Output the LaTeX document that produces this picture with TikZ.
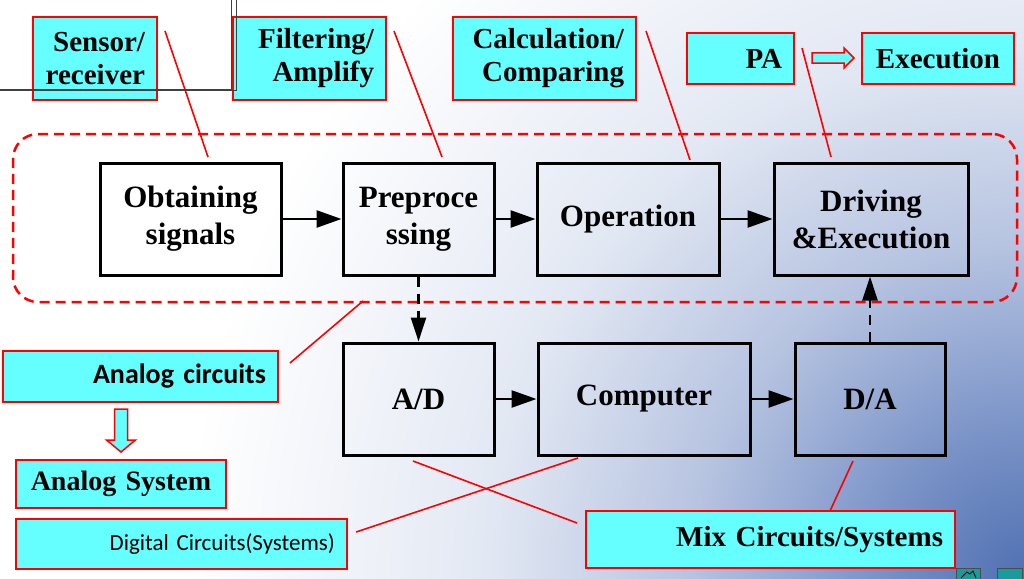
\documentclass[tikz,border=0pt]{standalone}
\usepackage{fontspec}
\setmainfont{Liberation Serif}
\newfontfamily\carlito{Carlito}
\usetikzlibrary{arrows.meta}
\definecolor{cyanbox}{HTML}{66FFFF}
\definecolor{redc}{HTML}{FF0000}
\definecolor{bga}{HTML}{5070B2}
\definecolor{bgb}{HTML}{8098CA}
\definecolor{bgc}{HTML}{B7C4E1}
\definecolor{bgd}{HTML}{E2E8F3}
\definecolor{bge}{HTML}{F3F5FA}
\definecolor{teal2}{HTML}{1A9A9A}
\pgfdeclareradialshading{bgshade}{\pgfpointorigin}{color(0bp)=(bga); color(5bp)=(bgb); color(10bp)=(bgc); color(16bp)=(bgd); color(21bp)=(bge); color(25bp)=(white); color(50bp)=(white)}
\newcommand\mainboxfont{\fontsize{31}{37}\selectfont\bfseries}
\newcommand\calloutfont{\fontsize{29}{33}\selectfont\bfseries}
\begin{document}
\begin{tikzpicture}[x=1pt,y=-1pt,
  blk/.style={draw=black, line width=3pt, align=center, font=\mainboxfont, inner sep=0pt},
  callout/.style={draw=redc, fill=cyanbox, line width=2pt, inner xsep=12pt, inner ysep=0pt, align=right, font=\calloutfont},
  grpbox/.style={draw=redc, line width=2.5pt, dash pattern=on 10pt off 6pt, rounded corners=25pt, inner sep=0pt},
  flow/.style={line width=2.5pt, -{Triangle[length=25pt,width=17pt]}},
  dflow/.style={line width=2.5pt, dash pattern=on 10pt off 7pt, -{Triangle[length=24pt,width=15pt]}},
  lead/.style={draw=redc, line width=1.6pt},
  blockarrow/.style={draw=redc, fill=cyanbox, line width=1.5pt, line join=miter}]
\useasboundingbox (0,0) rectangle (1024,578);
% background
\fill[white] (0,0) rectangle (1024,578);
\begin{scope}
  \clip (0,0) rectangle (1024,578);
  \shade[shading=bgshade] (1024,578) circle (840);
\end{scope}

% group
\node[grpbox, minimum width=1004pt, minimum height=168pt] (grp) at (515,218) {};

% main boxes
\node[blk, minimum width=181pt, minimum height=112pt] (obt) at (190.5,219) {Obtaining\\signals};
\node[blk, minimum width=151pt, minimum height=112pt] (pre) at (418.5,219) {Preproce\\ssing};
\node[blk, minimum width=182pt, minimum height=112pt] (op) at (628,219) {Operation};
\node[blk, minimum width=194pt, minimum height=112pt] (drv) at (871,219) {Driving\\\&Execution};
\node[blk, minimum width=151pt, minimum height=112pt] (ad) at (418.5,399) {A/D};
\node[blk, minimum width=212pt, minimum height=112pt] (comp) at (644,399) {Computer};
\node[blk, minimum width=150pt, minimum height=112pt] (da) at (870,399) {D/A};

\draw[flow] (obt) -- (pre);
\draw[flow] (pre) -- (op);
\draw[flow] (op) -- (drv);
\draw[flow] (ad) -- (comp);
\draw[flow] (comp) -- (da);
\draw[dflow] (pre.south) -- (ad.north);
\draw[dflow] (da.north) -- (da.north |- drv.south);

% callouts
\node[callout, text width=100pt, minimum height=83pt] (sen) at (95,58.5) {Sensor/\\receiver};
\node[callout, text width=129pt, minimum height=83pt] (fil) at (309.5,58.5) {Filtering/\\Amplify};
\node[callout, text width=159pt, minimum height=83pt] (cal) at (544.5,58.5) {Calculation/\\Comparing};
\node[callout, text width=83pt, minimum height=51pt] (pa) at (740.5,58.5) {PA};
\node[callout, text width=128pt, minimum height=51pt, align=center] (exe) at (938,58.5) {Execution};
\node[callout, text width=251pt, minimum height=51pt, font=\carlito\bfseries\fontsize{28}{32}\selectfont] (ac) at (140.5,376.5) {Analog circuits};
\node[callout, text width=186pt, minimum height=48pt, align=center, font=\fontsize{28}{32}\selectfont\bfseries] (as) at (121,484) {Analog System};
\node[callout, text width=307pt, minimum height=50pt, font=\carlito\fontsize{23}{27}\selectfont] (dig) at (181.5,544) {Digital Circuits(Systems)};
\node[callout, text width=345pt, minimum height=57pt] (mix) at (770.5,539.5) {Mix Circuits/Systems};

% block arrows
\draw[blockarrow] (812,53) -- (844,53) -- (844,48) -- (854,58) -- (844,68) -- (844,63) -- (812,63) -- cycle;
\draw[blockarrow] (114.5,409) -- (127.5,409) -- (127.5,440) -- (135.5,440) -- (121,452) -- (106.5,440) -- (114.5,440) -- cycle;

% leader lines
\coordinate (l1a) at (165,31); \coordinate (l1b) at (208,157);
\coordinate (l2a) at (394,31); \coordinate (l2b) at (442,157);
\coordinate (l3a) at (646,31); \coordinate (l3b) at (690,160);
\coordinate (l4a) at (802,48); \coordinate (l4b) at (831,157);
\coordinate (l5a) at (290,363); \coordinate (l5b) at (363,301);
\coordinate (l6a) at (356,532); \coordinate (l6b) at (578,458);
\coordinate (l7a) at (413,461); \coordinate (l7b) at (577,523);
\coordinate (l8a) at (853,461); \coordinate (l8b) at (830,511);
\draw[lead] (l1a) -- (l1b);
\draw[lead] (l2a) -- (l2b);
\draw[lead] (l3a) -- (l3b);
\draw[lead] (l4a) -- (l4b);
\draw[lead] (l5a) -- (l5b);
\draw[lead] (l6a) -- (l6b);
\draw[lead] (l7a) -- (l7b);
\draw[lead] (l8a) -- (l8b);

% artifact lines top-left
\draw[draw=black!75, line width=1.2pt] (0,90) -- (231,90);
\draw[draw=black!75, line width=1pt] (231,0) rectangle (236,90);

% nav buttons
\draw[fill=teal2, draw=black!70, line width=0.8pt] (956,568) rectangle (980,580);
\draw[fill=teal2, draw=black!70, line width=0.8pt] (997,568) rectangle (1022,580);
\draw[black, line width=0.8pt] (961,578) -- (967,572) -- (970,574) -- (973,571) -- (976,578);
\end{tikzpicture}
\end{document}
